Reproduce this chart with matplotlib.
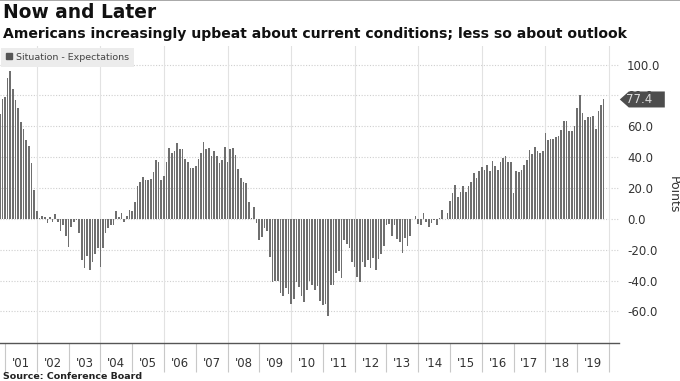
import numpy as np
import pandas as pd
import matplotlib
matplotlib.use("Agg")
import matplotlib.pyplot as plt
from matplotlib.lines import Line2D
from matplotlib.patches import Polygon
from matplotlib.transforms import blended_transform_factory, ScaledTranslation


# ==========================================================
# Data: Conference Board present situation minus expectations (points)

diff_2000 = [68, 78, 79]  # Oct - Dec
diff_2001 = [91, 96, 84, 77, 72, 63, 58, 51, 47, 36, 19, 5]
diff_2002 = [0.5, 2, 1, -3, 1.5, -2, 3, -2, -8, -4, -11, -18]
diff_2003 = [-5, -2, -1, -9, -27, -32, -24, -33, -28, -23, -19, -31]
diff_2004 = [-19, -9, -6, -4, -4, 5, 1.5, 3.7, -2, 2, 6, 5]
diff_2005 = [11, 21, 24, 27, 25, 25, 26, 30.5, 38, 37, 25, 28]
diff_2006 = [37, 46, 43, 44, 49, 45, 45, 39, 37, 33, 33, 34]
diff_2007 = [39, 43, 50, 45, 46, 41, 44, 40.5, 36.5, 38, 46.5, 37]
diff_2008 = [45, 46, 41.5, 32, 26.5, 24, 23.5, 11, 0.5, 8, -3, -14]
diff_2009 = [-12, -6, -8, -25, -41, -40, -40, -48, -50, -45, -49, -55]
diff_2010 = [-52, -41, -44, -50, -54, -46, -40, -43, -46, -43.5, -53, -56]
diff_2011 = [-55, -63, -43, -43, -35, -33.5, -38.5, -14, -16, -19, -28, -31]
diff_2012 = [-37.5, -41, -28, -31, -27, -32, -25.5, -33, -26, -23, -17.5, -4]
diff_2013 = [-3.5, -11, -4, -13, -15, -22, -12.5, -17.5, -11, 0, 2, -3.5]
diff_2014 = [-4, 4, -2, -5, -2.4, -0.6, -4, 0.4, 6, 0, 4, 11.7]
diff_2015 = [17, 22, 14, 17.7, 21, 17.7, 21.6, 24, 29.7, 26.4, 30.7, 33.5]
diff_2016 = [31.4, 35, 31, 37.7, 34.4, 31.8, 36.8, 39.4, 41, 37, 37, 17]
diff_2017 = [30.7, 30.3, 31.8, 35, 38.3, 44.4, 42, 46.5, 43.7, 43, 43.7, 55.6]
diff_2018 = [51, 52, 52, 53, 53.5, 57.4, 63.6, 63.2, 56.7, 56.7, 60.4, 71.9]
diff_2019 = [80.5, 68.6, 64.3, 66, 65.8, 66.5, 58.2, 69.7, 73.6, 77.4]  # Jan - Oct

year_labels = ["'01", "'02", "'03", "'04", "'05", "'06", "'07", "'08", "'09", "'10",
               "'11", "'12", "'13", "'14", "'15", "'16", "'17", "'18", "'19"]
y_ticks = [-60, -40, -20, 0, 20, 40, 60, 80, 100]

values = (diff_2000 + diff_2001 + diff_2002 + diff_2003 + diff_2004 + diff_2005
          + diff_2006 + diff_2007 + diff_2008 + diff_2009 + diff_2010 + diff_2011
          + diff_2012 + diff_2013 + diff_2014 + diff_2015 + diff_2016 + diff_2017
          + diff_2018 + diff_2019)

# monthly observations plotted at month end
dates = pd.date_range("2000-10-31", periods=len(values), freq="ME")
x = dates.year + dates.month / 12.0


# ==========================================================
# Figure

fig = plt.figure(figsize=(6.8, 3.81), dpi=100)
ax = fig.add_axes([0.0, 0.0997, 0.910, 0.7793])

ax.bar(x, values, width=0.62 / 12, color="#6f6f6f", linewidth=0, zorder=3)

ax.set_xlim(2000.843, 2020.31)
ax.set_ylim(-80.5, 112)

# grid
for v in y_ticks:
    ax.axhline(v, color="#cfcfcf", linewidth=0.8, linestyle=(0, (1, 1.5)), zorder=1)
for yr in range(2002, 2021, 2):
    ax.axvline(yr, color="#e2e2e2", linewidth=0.8, zorder=1)

# right y axis
ax.yaxis.tick_right()
ax.set_yticks(y_ticks)
ax.set_yticklabels([f"{v:.1f}" for v in y_ticks])
ax.tick_params(axis="y", length=0, pad=6, labelsize=8.5, labelcolor="#333333")
ax.yaxis.set_label_position("right")
ax.set_ylabel("Points", rotation=270, fontsize=9, color="#333333", labelpad=14)

# x axis: year separators with labels in between
years = np.arange(2001, 2020)
ax.set_xticks(years + 0.5)
ax.set_xticklabels(year_labels)
ax.set_xticks(np.arange(2001, 2021), minor=True)
ax.tick_params(axis="x", which="major", length=0, pad=10, labelsize=8.5,
               labelcolor="#333333")
ax.tick_params(axis="x", which="minor", length=21, width=0.8, color="#c8c8c8",
               direction="out")

for side in ["top", "left", "right"]:
    ax.spines[side].set_visible(False)
ax.spines["bottom"].set_color("#555555")
ax.spines["bottom"].set_linewidth(1.0)

# legend
handle = Line2D([], [], marker="s", linestyle="none", color="#555555", markersize=4.5)
leg = ax.legend([handle], ["Situation - Expectations"], loc="upper left",
                bbox_to_anchor=(0.0, 1.0), borderaxespad=0.15, fontsize=6.8,
                handlelength=0.6, handletextpad=0.35, borderpad=0.55,
                frameon=True, fancybox=False)
leg.get_frame().set_facecolor("#ececec")
leg.get_frame().set_edgecolor("none")
leg.get_frame().set_alpha(1)
for t in leg.get_texts():
    t.set_color("#444444")

# last value tag on the right axis (covers the 80.0 label, as in the original)
last = values[-1]
base = blended_transform_factory(ax.transAxes, ax.transData)
tag_tr = fig.dpi_scale_trans + ScaledTranslation(1.0, last, base)
tag = Polygon([(0.01, 0.0), (0.10, 0.08), (0.46, 0.08), (0.46, -0.08), (0.10, -0.08)],
              closed=True, transform=tag_tr, facecolor="#4d4d4d", edgecolor="none",
              clip_on=False, zorder=10)
ax.add_artist(tag)
ax.text(0.075, 0.0, f"{last:.1f}", transform=tag_tr, fontsize=8.5, color="#dddddd",
        ha="left", va="center", clip_on=False, zorder=11)

# titles and source
fig.text(0.005, 0.992, "Now and Later", fontsize=13.4, fontweight="bold", va="top",
         color="#111111")
fig.text(0.005, 0.928, "Americans increasingly upbeat about current conditions; "
         "less so about outlook", fontsize=10.1, fontweight="bold", va="top",
         color="#111111")
fig.text(0.005, 0.0, "Source: Conference Board", fontsize=6.8, fontweight="bold",
         va="bottom", color="#222222")
fig.add_artist(Line2D([0, 1], [0.999, 0.999], transform=fig.transFigure,
                      color="#9a9a9a", linewidth=1.2))

fig.savefig("out.png", dpi=100)
